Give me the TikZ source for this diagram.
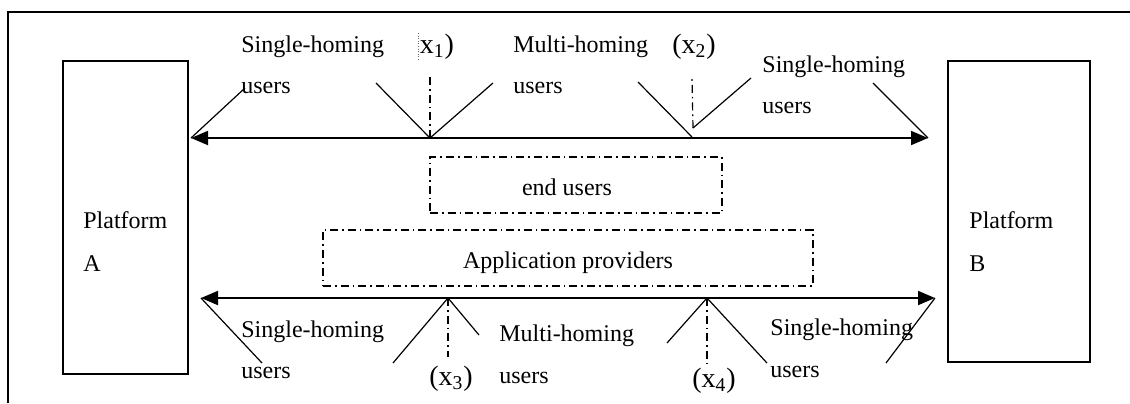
\documentclass[tikz,border=0pt]{standalone}
\usepackage{fontspec}
\setmainfont{Liberation Serif}
\usetikzlibrary{arrows.meta}
\begin{document}
\begin{tikzpicture}[x=0.5pt,y=-0.5pt,
  lbl/.style={inner sep=0pt, anchor=base west, font=\fontsize{12}{14}\selectfont},
  xl/.style={inner sep=0pt, anchor=base, font=\fontsize{14}{16}\selectfont},
  thinl/.style={line width=0.6pt},
  arr/.style={line width=0.9pt, {Triangle[length=8.5pt,width=7pt]}-{Triangle[length=8.5pt,width=7pt]}},
  dd/.style={line width=0.6pt, dash pattern=on 4pt off 2pt on 0.8pt off 2pt},
  pbox/.style={draw, line width=0.8pt, inner sep=0pt}]
\useasboundingbox (0,0) rectangle (1130,403);
% frame
\coordinate (f1) at (8,403);
\coordinate (f2) at (8,12);
\coordinate (f3) at (1130,12);
\draw[thinl] (f1) -- (f2) -- (f3);
% platforms
\node[pbox, minimum width=62.5pt, minimum height=156.5pt] (pa) at (125.5,217.5) {};
\node[pbox, minimum width=71pt, minimum height=150.5pt] (pb) at (1019,211.5) {};
\node[lbl] (pat) at (83,228) {Platform};
\node[lbl] (pal) at (83,271) {A};
\node[lbl] (pbt) at (969,228) {Platform};
\node[lbl] (pbl) at (969,271) {B};
% dash-dot boxes
\node[dd, draw, minimum width=146pt, minimum height=28pt, inner sep=0pt] (eu) at (576,185) {};
\node[dd, draw, minimum width=245pt, minimum height=28pt, inner sep=0pt] (ap) at (568,258) {};
\node[lbl, anchor=base] (eut) at (567,195) {end users};
\node[lbl, anchor=base] (apt) at (568,268) {Application providers};
% arrows
\coordinate (tl) at (191,138);
\coordinate (tr) at (928,138);
\coordinate (bl) at (201,298);
\coordinate (br) at (935,298);
\draw[arr] (tl) -- (tr);
\draw[arr] (bl) -- (br);
% top lines
\coordinate (a1) at (245,88);
\coordinate (v1) at (430,138);
\coordinate (v1l) at (376,83);
\coordinate (v1r) at (493,83);
\coordinate (v1d) at (430,75);
\coordinate (v2) at (692,137);
\coordinate (v2l) at (638,82);
\coordinate (v2s) at (693,128);
\coordinate (v2r) at (751,78);
\coordinate (v2d) at (692,78);
\coordinate (a2) at (873,83);
\draw[thinl] (tl) -- (a1);
\draw[thinl] (v1l) -- (v1) -- (v1r);
\draw[dd] (v1) -- (v1d);
\draw[thinl] (v2l) -- (v2);
\draw[thinl] (v2s) -- (v2r);
\draw[dd] (v2s) -- (v2d);
\draw[thinl] (a2) -- (tr);
\coordinate (q1) at (418,33);
\coordinate (q2) at (418,60);
\draw[line width=0.3pt, densely dotted, black!60] (q1) -- (q2);
% bottom lines
\coordinate (b1) at (262,363);
\coordinate (v3) at (448,298);
\coordinate (v3l) at (393,363);
\coordinate (v3r) at (479,335);
\coordinate (v3d) at (448,357);
\coordinate (v4) at (707,298);
\coordinate (v4l) at (667,343);
\coordinate (v4r) at (767,363);
\coordinate (v4d) at (707,363);
\coordinate (b2) at (886,363);
\draw[thinl] (bl) -- (b1);
\draw[thinl] (v3l) -- (v3) -- (v3r);
\draw[dd] (v3) -- (v3d);
\draw[thinl] (v4l) -- (v4) -- (v4r);
\draw[dd] (v4) -- (v4d);
\draw[thinl] (b2) -- (br);
% top texts
\node[lbl] (t1a) at (241,52) {Single-homing};
\node[lbl] (t1b) at (241,93) {users};
\node[lbl] (t2a) at (513,52) {Multi-homing};
\node[lbl] (t2b) at (513,93) {users};
\node[lbl] (t3a) at (762,72) {Single-homing};
\node[lbl] (t3b) at (762,113) {users};
\node[xl] (x1) at (437,53) {x\textsubscript{1})};
\node[xl] (x2) at (694,53) {(x\textsubscript{2})};
% bottom texts
\node[lbl] (s1a) at (241,337) {Single-homing};
\node[lbl] (s1b) at (241,378) {users};
\node[lbl] (s2a) at (499,341) {Multi-homing};
\node[lbl] (s2b) at (499,383) {users};
\node[lbl] (s3a) at (770,335) {Single-homing};
\node[lbl] (s3b) at (770,377) {users};
\node[xl] (x3) at (451,385) {(x\textsubscript{3})};
\node[xl] (x4) at (714,387) {(x\textsubscript{4})};
\end{tikzpicture}
\end{document}
